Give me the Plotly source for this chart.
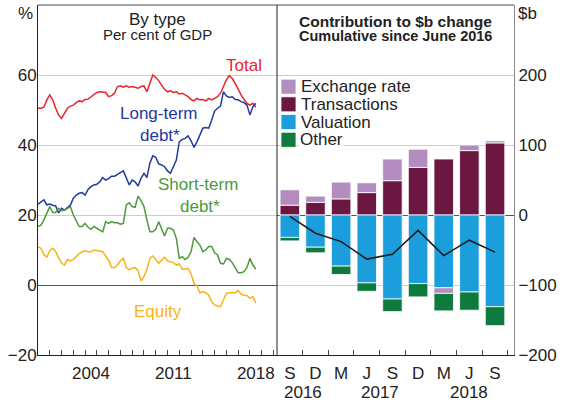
import plotly.graph_objects as go

# ---------------- data: left panel (per cent of GDP, quarterly 2000Q1-2018Q3) ----------------
quarters = [f"{y}Q{q}" for y in range(2000, 2019) for q in range(1, 5)][:75]

total = [50.5, 50.5, 50.8, 52.9, 54.3, 52.9, 50.5, 48.6, 47.6, 49.2,
         50.5, 51.1, 51.4, 52.1, 52.6, 52.4, 53.0, 53.1, 53.8, 54.3,
         55.0, 55.2, 55.0, 55.0, 53.8, 54.1, 54.8, 56.7, 56.9, 56.5,
         56.9, 56.5, 56.7, 56.4, 56.2, 56.7, 56.9, 55.2, 57.6, 60.0,
         59.3, 58.4, 57.1, 55.9, 55.2, 55.5, 55.0, 55.2, 54.6, 54.8,
         54.3, 53.8, 53.0, 52.6, 53.3, 52.9, 53.0, 52.6, 53.3, 52.9,
         53.3, 53.8, 54.8, 56.5, 58.6, 59.8, 59.0, 57.6, 55.9, 54.3,
         53.0, 51.9, 51.4, 51.9, 50.8]

long_term = [23.1, 23.8, 24.3, 22.9, 23.1, 22.8, 22.6, 20.6, 21.9, 21.4,
             22.2, 22.8, 24.8, 25.7, 26.2, 26.4, 25.7, 27.3, 28.1, 28.6,
             28.8, 29.5, 30.7, 30.0, 30.4, 31.1, 31.1, 31.7, 32.1, 32.6,
             30.5, 28.6, 30.0, 29.5, 28.3, 30.5, 31.9, 30.7, 34.8, 36.9,
             36.5, 34.6, 34.3, 33.8, 32.6, 31.9, 33.8, 35.7, 40.9, 41.6,
             41.9, 42.6, 41.2, 39.3, 40.9, 42.9, 44.8, 45.0, 44.8, 47.1,
             49.7, 50.5, 51.1, 55.2, 54.0, 53.6, 53.8, 53.0, 52.9, 52.4,
             52.1, 51.4, 48.6, 50.9, 51.9]

short_term = [16.7, 17.1, 18.6, 20.5, 22.4, 20.7, 20.7, 21.9, 21.2, 21.4,
              21.9, 22.4, 20.0, 18.4, 16.7, 16.7, 17.6, 16.5, 15.9, 16.7,
              16.2, 15.7, 15.2, 18.1, 17.6, 18.1, 17.8, 17.8, 17.4, 17.6,
              22.9, 23.5, 22.4, 22.2, 25.4, 24.1, 22.4, 18.6, 15.2, 15.2,
              15.9, 18.1, 16.2, 14.0, 16.2, 16.2, 15.7, 13.3, 7.6, 8.1,
              7.3, 7.9, 9.5, 13.6, 12.4, 11.4, 9.5, 10.0, 11.0, 11.0,
              9.2, 8.6, 6.2, 6.0, 7.6, 7.3, 6.4, 5.0, 3.5, 3.5,
              3.8, 5.0, 7.6, 5.7, 4.5]

equity = [10.9, 10.5, 8.6, 8.0, 9.8, 10.5, 9.5, 7.9, 6.2, 5.7,
          7.3, 6.9, 7.3, 8.1, 9.0, 9.5, 9.8, 9.5, 9.5, 10.0,
          9.8, 9.8, 9.5, 8.3, 7.1, 5.0, 5.0, 5.7, 6.9, 7.6,
          5.0, 4.3, 4.8, 5.0, 4.1, 1.2, 2.4, 4.5, 7.6, 8.3,
          7.3, 6.2, 7.1, 7.9, 6.9, 6.7, 6.4, 5.7, 6.0, 4.5,
          4.5, 4.8, 3.2, 0.5, -0.3, -2.2, -1.9, -2.2, -2.9, -4.8,
          -5.7, -6.0, -6.2, -4.3, -2.4, -2.2, -2.2, -2.2, -1.6, -2.6,
          -2.9, -3.0, -3.8, -3.3, -5.2]

year_ticks = ["2004", "2011", "2018"]

# ---------------- data: right panel ($b, cumulative since June 2016) ----------------
periods = ["S", "D", "M", "J", "S", "D", "M", "J", "S"]
period_years = ["2016", "2016", "2017", "2017", "2017", "2017", "2018", "2018", "2018"]
exchange_rate = [22, 9, 24, 14, 31, 26, -8, 8, 3]
transactions = [14, 18, 23, 32, 49, 68, 80, 92, 103]
valuation = [-32, -46, -73, -97, -120, -98, -104, -110, -131]
other = [-5, -8, -12, -12, -18, -19, -25, -26, -27]
net_change = [-2, -26, -38, -63, -56, -22, -58, -36, -53]

# ---------------- styling ----------------
FONT = "Liberation Sans, Arial, Helvetica, sans-serif"
TXT = "#222222"
RED, BLUE, GREEN, ORANGE = "#e5262c", "#233a9c", "#4c9a3c", "#f9b218"
C_EXCH, C_TRANS, C_VAL, C_OTH = "#b48dc0", "#6b1742", "#1b9edb", "#0f7a3d"
GRID = "#cdcdcd"

W, H = 562, 404
L, R, T, B = 38, 48, 5, 49
split = (277 - L) / (W - L - R)


def px_x(px):
    return (px - L) / (W - L - R)


def px_y(py):
    return (H - B - py) / (H - T - B)


x_left = [int(q[:4]) + (int(q[-1]) - 1) / 4 for q in quarters]
x_right = list(range(len(periods)))

fig = go.Figure()

for name, vals, col in [("Total", total, RED), ("Long-term debt*", long_term, BLUE),
                        ("Short-term debt*", short_term, GREEN), ("Equity", equity, ORANGE)]:
    fig.add_trace(go.Scatter(x=x_left, y=vals, mode="lines", name=name,
                             line=dict(color=col, width=1.5), showlegend=False,
                             xaxis="x", yaxis="y"))

bar_series = [("Transactions", transactions, C_TRANS),
              ("Valuation", valuation, C_VAL),
              ("Exchange rate", exchange_rate, C_EXCH),
              ("Other", other, C_OTH)]
for name, vals, col in bar_series:
    fig.add_trace(go.Bar(x=x_right, y=vals, name=name, width=0.76,
                         marker=dict(color=col, line=dict(color="white", width=0.8)),
                         showlegend=False, xaxis="x2", yaxis="y2"))

fig.add_trace(go.Scatter(x=x_right, y=net_change, mode="lines", name="Net change",
                         line=dict(color="#1a1a1a", width=1.5), showlegend=False,
                         xaxis="x2", yaxis="y2"))

tickfont = dict(family=FONT, size=17, color=TXT)

fig.update_layout(
    width=W, height=H, margin=dict(l=L, r=R, t=T, b=B),
    paper_bgcolor="white", plot_bgcolor="white",
    barmode="relative", bargap=0.2,
    font=dict(family=FONT, color=TXT, size=17),
    xaxis=dict(domain=[0, split], range=[2000, 2020.3], anchor="y",
               tickmode="array", tickvals=[int(y) + 0.5 for y in year_ticks], ticktext=year_ticks,
               ticks="", showgrid=False, zeroline=False, ticklabelstandoff=3,
               showline=True, linecolor="#222", linewidth=1, tickfont=tickfont,
               minor=dict(tickmode="array", tickvals=list(range(2001, 2021)), ticks="inside",
                          ticklen=5, tickcolor="#444", showgrid=False)),
    yaxis=dict(domain=[0, 1], range=[-20, 80], anchor="x",
               tickmode="array", tickvals=[-20, 0, 20, 40, 60],
               showgrid=True, gridcolor=GRID, gridwidth=1,
               zeroline=True, zerolinecolor="#555", zerolinewidth=1, ticklabelstandoff=-3,
               showline=True, linecolor="#222", linewidth=1, ticks="", tickfont=tickfont),
    xaxis2=dict(domain=[split, 1], range=[-0.5, 8.74], anchor="y2",
                tickmode="array", tickvals=x_right, ticktext=periods, ticks="",
                showgrid=False, zeroline=False, ticklabelstandoff=3,
                showline=True, linecolor="#222", linewidth=1, tickfont=tickfont,
                minor=dict(tickmode="array", tickvals=[k + 0.5 for k in x_right], ticks="inside",
                           ticklen=5, tickcolor="#444", showgrid=False)),
    yaxis2=dict(domain=[0, 1], range=[-200, 300], anchor="x2", side="right",
                tickmode="array", tickvals=[-200, -100, 0, 100, 200],
                showgrid=True, gridcolor=GRID, gridwidth=1,
                zeroline=True, zerolinecolor="#555", zerolinewidth=1,
                showline=True, linecolor="#888", linewidth=1, ticks="", tickfont=tickfont),
)

# frame: top border and panel divider
fig.add_shape(type="line", xref="paper", yref="paper", x0=0, x1=1, y0=1, y1=1,
              line=dict(color="#888", width=1.5))
fig.add_shape(type="line", xref="paper", yref="paper", x0=split, x1=split, y0=0, y1=1,
              line=dict(color="#222", width=1))

ann = []
# panel titles
ann.append(dict(text="By type", x=split / 2, y=px_y(20), font=dict(size=17)))
ann.append(dict(text="Per cent of GDP", x=split / 2, y=px_y(34), font=dict(size=15)))
ann.append(dict(text="<b>Contribution to $b change</b>", x=(split + 1) / 2, y=px_y(21), font=dict(size=15.5)))
ann.append(dict(text="<b>Cumulative since June 2016</b>", x=(split + 1) / 2, y=px_y(36), font=dict(size=14.5)))
for a in ann:
    a.update(xref="paper", yref="paper", showarrow=False, xanchor="center", yanchor="middle")
    a["font"].update(family=FONT, color=TXT)

ann.append(dict(text="%", xref="paper", yref="paper", x=px_x(35), y=px_y(13), showarrow=False,
                xanchor="right", yanchor="middle", font=dict(family=FONT, size=17, color=TXT)))
ann.append(dict(text="$b", xref="paper", yref="paper", x=px_x(516), y=px_y(13), showarrow=False,
                xanchor="left", yanchor="middle", font=dict(family=FONT, size=17, color=TXT)))

# series labels (left panel, data coords)
for txt, xx, yy, col in [("Total", 2017.5, 62.6, RED), ("Long-term", 2010.2, 49.1, BLUE),
                         ("debt*", 2010.4, 42.8, BLUE), ("Short-term", 2013.55, 28.6, GREEN),
                         ("debt*", 2013.8, 22.4, GREEN), ("Equity", 2010.2, -7.7, ORANGE)]:
    ann.append(dict(text=txt, x=xx, y=yy, xref="x", yref="y", showarrow=False,
                    xanchor="center", yanchor="middle", font=dict(family=FONT, size=17, color=col)))

# year labels under the right panel
for yr in dict.fromkeys(period_years):
    idx = [i for i, p in enumerate(period_years) if p == yr]
    ann.append(dict(text=yr, x=sum(idx) / len(idx), y=px_y(392), xref="x2", yref="paper",
                    showarrow=False, xanchor="center", yanchor="middle",
                    font=dict(family=FONT, size=17, color=TXT)))

# legend (manual, compact like reference)
legend_items = [("Exchange rate", C_EXCH), ("Transactions", C_TRANS), ("Valuation", C_VAL), ("Other", C_OTH)]
row_y = [86.7, 104.3, 122.0, 139.8]
for (name, col), ry in zip(legend_items, row_y):
    fig.add_shape(type="rect", xref="paper", yref="paper", layer="above",
                  x0=px_x(281), x1=px_x(296), y0=px_y(ry + 7.5), y1=px_y(ry - 7.5),
                  fillcolor=col, line=dict(color="white", width=0.8))
    a = dict(text=name, xref="paper", yref="paper", x=px_x(299), y=px_y(ry), showarrow=False,
             xanchor="left", yanchor="middle", font=dict(family=FONT, size=17, color=TXT))
    if name == "Other":
        a.update(bgcolor="white", borderpad=0)
    ann.append(a)

fig.update_layout(annotations=ann)

fig.write_html("out.html",
               config={"displayModeBar": False, "staticPlot": True},
               post_script="document.body.style.margin='0';document.body.style.padding='0';"
                           "document.body.style.overflow='hidden';")
